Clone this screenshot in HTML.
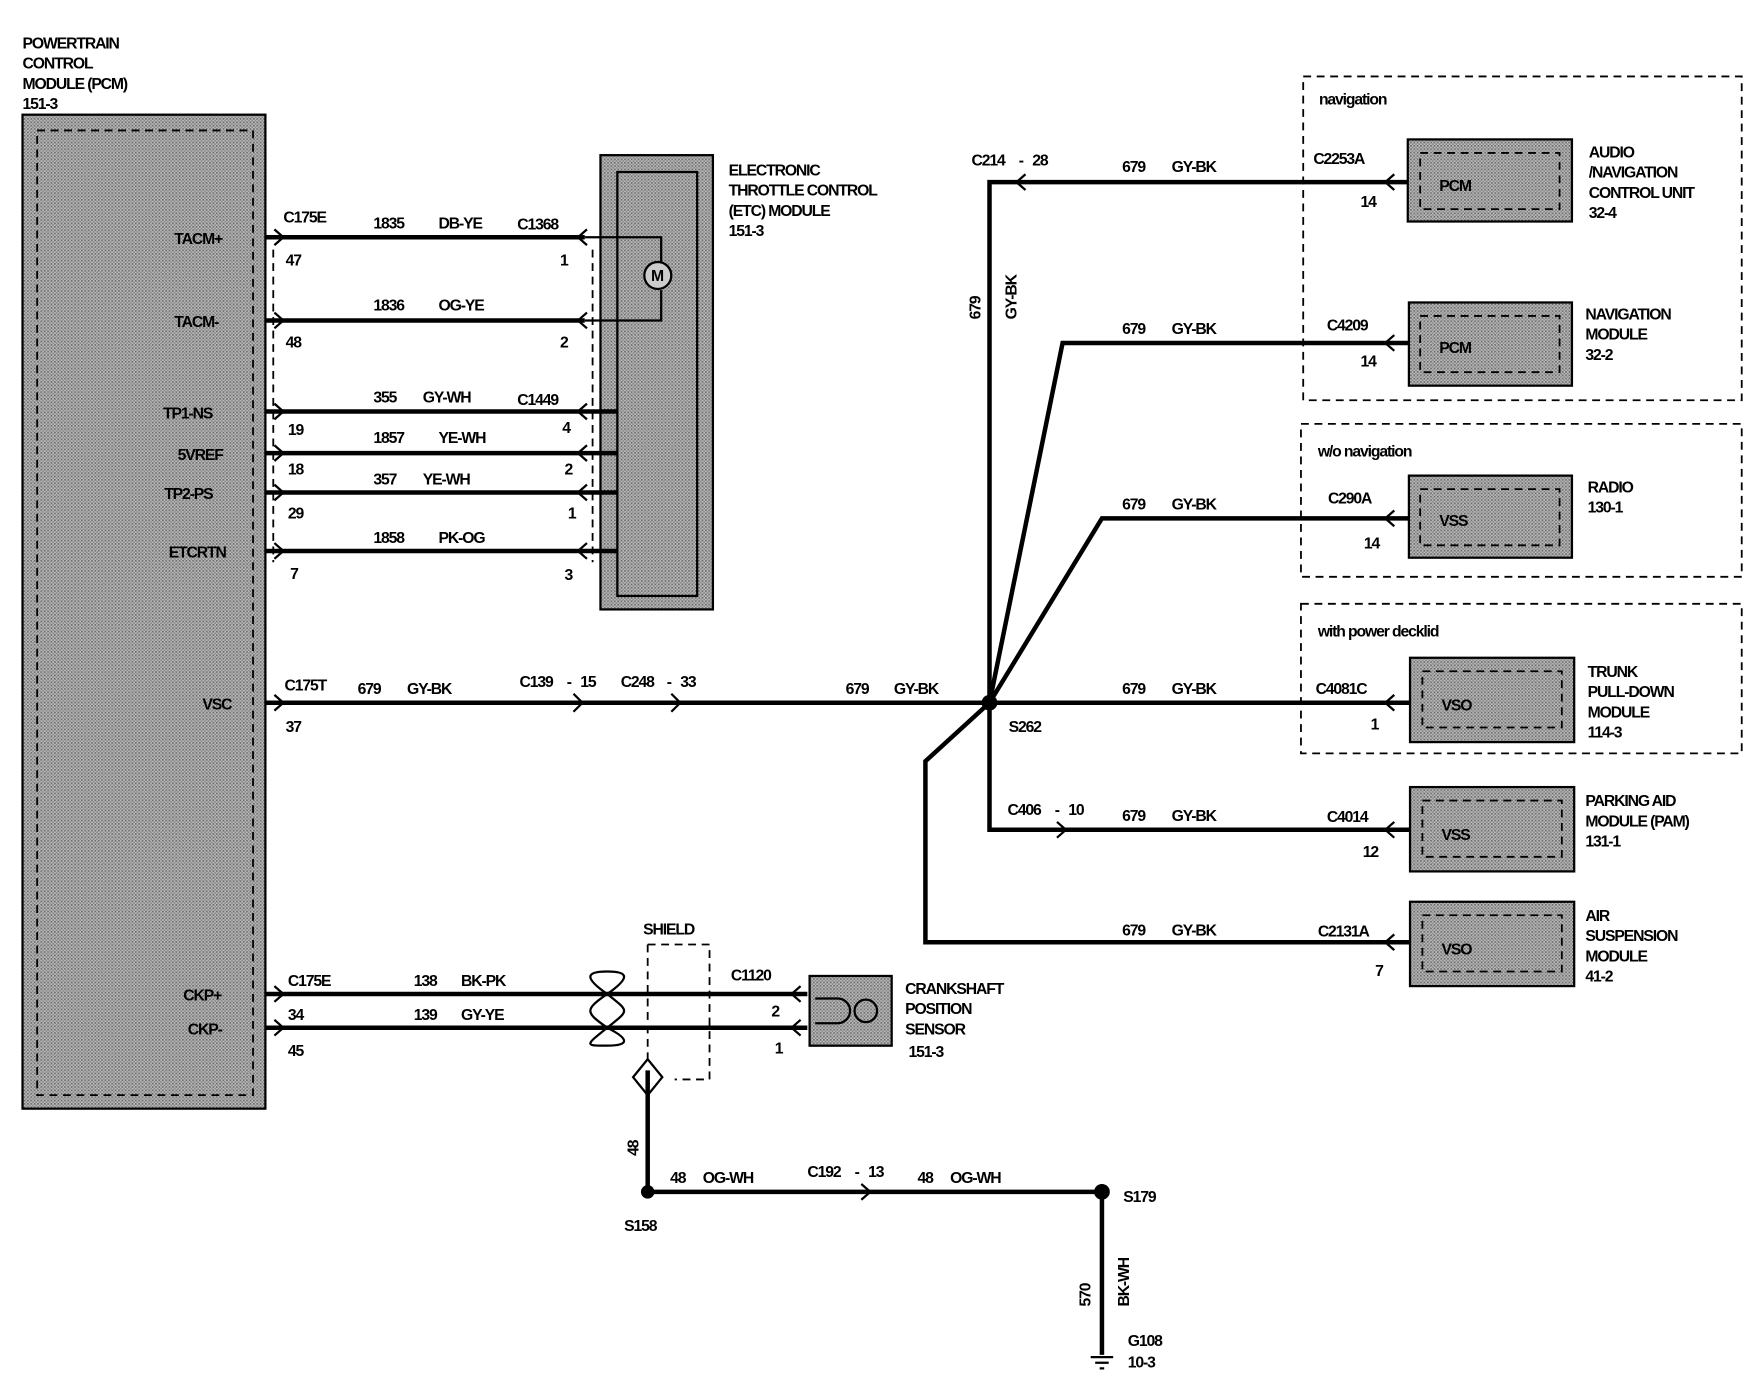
<!DOCTYPE html>
<html><head><meta charset="utf-8"><style>
html,body{margin:0;padding:0;background:#fff}
svg{display:block}
text{font-family:"Liberation Sans",Arial,sans-serif;font-size:14px;fill:#000;letter-spacing:-1px;font-weight:bold}
.w{stroke:#000;stroke-width:4;fill:none}
.t{stroke:#000;stroke-width:2;fill:none}
.d{stroke:#000;stroke-width:1.6;fill:none;stroke-dasharray:7 5}
</style></head><body>
<svg width="1762" height="1392" viewBox="0 0 1567 1238" xmlns="http://www.w3.org/2000/svg">
<defs>
<pattern id="p" width="3" height="3" patternUnits="userSpaceOnUse"><rect width="3" height="3" fill="#bdbdbd"/><rect width="1.5" height="1.5" fill="#6a6a6a"/><rect x="1.5" y="1.5" width="1.5" height="1.5" fill="#888"/></pattern>
</defs>
<!-- PCM -->
<text x="20" y="43">POWERTRAIN</text><text x="20" y="61">CONTROL</text><text x="20" y="79">MODULE (PCM)</text><text x="20" y="97">151-3</text>
<rect x="20" y="102" width="216" height="884" fill="url(#p)" stroke="#000" stroke-width="2"/>
<rect x="33" y="116" width="192" height="858" class="d"/>
<g>
<text x="155" y="217">TACM+</text><text x="155" y="291">TACM-</text><text x="145" y="372">TP1-NS</text><text x="158" y="409">5VREF</text><text x="146" y="444">TP2-PS</text><text x="150" y="496">ETCRTN</text><text x="180" y="631">VSC</text><text x="163" y="890">CKP+</text><text x="167" y="920">CKP-</text>
</g>
<!-- ETC -->
<rect x="534" y="138" width="100" height="404" fill="url(#p)" stroke="#000" stroke-width="2"/>
<rect x="549" y="153" width="71" height="377" class="t" stroke-width="3"/>
<text x="648" y="156">ELECTRONIC</text><text x="648" y="174">THROTTLE CONTROL</text><text x="648" y="192">(ETC) MODULE</text><text x="648" y="210">151-3</text>
<path class="t" d="M520 211H588V233M588 258V285H520"/>
<circle cx="585" cy="245" r="12" fill="#ccc" stroke="#000" stroke-width="2"/><text x="579" y="250" font-size="13">M</text>
<path class="d" d="M243 222V500M527 222V500"/>
<g class="w">
<path d="M236 211H520M236 285H520M236 366H549M236 403H549M236 438H549M236 490H549"/>
</g>
<g class="t">
<path d="M244 204l8 7-8 7M244 278l8 7-8 7M244 359l8 7-8 7M244 396l8 7-8 7M244 431l8 7-8 7M244 483l8 7-8 7"/>
<path d="M522 204l-8 7 8 7M522 278l-8 7 8 7M522 359l-8 7 8 7M522 396l-8 7 8 7M522 431l-8 7 8 7M522 483l-8 7 8 7"/>
</g>
<text x="252" y="198">C175E</text><text x="332" y="203">1835</text><text x="390" y="203">DB-YE</text><text x="460" y="204">C1368</text>
<text x="254" y="236">47</text><text x="498" y="236">1</text>
<text x="332" y="276">1836</text><text x="390" y="276">OG-YE</text>
<text x="254" y="309">48</text><text x="498" y="309">2</text>
<text x="332" y="358">355</text><text x="376" y="358">GY-WH</text><text x="460" y="360">C1449</text>
<text x="256" y="387">19</text><text x="500" y="385">4</text>
<text x="332" y="394">1857</text><text x="390" y="394">YE-WH</text>
<text x="256" y="422">18</text><text x="502" y="422">2</text>
<text x="332" y="431">357</text><text x="376" y="431">YE-WH</text>
<text x="256" y="461">29</text><text x="505" y="461">1</text>
<text x="332" y="483">1858</text><text x="390" y="483">PK-OG</text>
<text x="258" y="515">7</text><text x="502" y="516">3</text>
<!-- VSC -->
<path class="w" d="M236 625H880"/>
<path class="t" d="M244 618l8 7-8 7M510 617l8 8-8 8M597 617l8 8-8 8"/>
<text x="253" y="614">C175T</text><text x="318" y="617">679</text><text x="362" y="617">GY-BK</text>
<text x="462" y="611">C139</text><text x="504" y="611">-</text><text x="516" y="611">15</text>
<text x="552" y="611">C248</text><text x="593" y="611">-</text><text x="605" y="611">33</text>
<text x="752" y="617">679</text><text x="795" y="617">GY-BK</text>
<text x="254" y="651">37</text>
<!-- S262 network -->
<g class="w">
<path d="M880 625V162H1252"/>
<path d="M880 625L945 305H1253"/>
<path d="M880 625L980 461H1253"/>
<path d="M880 625H1254"/>
<path d="M880 625V738H1254"/>
<path d="M880 625L823 677V838H1254"/>
</g>
<circle cx="880" cy="625" r="7"/>
<text x="897" y="651">S262</text>
<text x="864" y="147">C214</text><text x="906" y="147">-</text><text x="918" y="147">28</text>
<text transform="translate(872 284) rotate(-90)">679</text>
<text transform="translate(904 284) rotate(-90)">GY-BK</text>
<g class="t">
<path d="M912 155l-8 7 8 7"/>
<path d="M1240 155l-8 7 8 7M1240 298l-8 7 8 7M1240 454l-8 7 8 7M1240 618l-8 7 8 7M1240 731l-8 7 8 7M1240 831l-8 7 8 7"/>
<path d="M940 731l8 7-8 7"/>
</g>
<g>
<text x="998" y="153">679</text><text x="1042" y="153">GY-BK</text>
<text x="998" y="297">679</text><text x="1042" y="297">GY-BK</text>
<text x="998" y="453">679</text><text x="1042" y="453">GY-BK</text>
<text x="998" y="617">679</text><text x="1042" y="617">GY-BK</text>
<text x="998" y="730">679</text><text x="1042" y="730">GY-BK</text>
<text x="998" y="832">679</text><text x="1042" y="832">GY-BK</text>
<text x="896" y="725">C406</text><text x="938" y="725">-</text><text x="950" y="725">10</text>
<text x="1168" y="146">C2253A</text><text x="1210" y="184">14</text>
<text x="1180" y="294">C4209</text><text x="1210" y="326">14</text>
<text x="1181" y="448">C290A</text><text x="1213" y="488">14</text>
<text x="1170" y="617">C4081C</text><text x="1219" y="649">1</text>
<text x="1180" y="731">C4014</text><text x="1212" y="762">12</text>
<text x="1172" y="833">C2131A</text><text x="1223" y="868">7</text>
</g>
<!-- groups -->
<rect x="1159" y="68" width="390" height="288" class="d"/>
<rect x="1157" y="377" width="392" height="136" class="d"/>
<rect x="1157" y="537" width="392" height="133" class="d"/>
<text x="1173" y="93" font-weight="normal">navigation</text><text x="1172" y="406" font-weight="normal">w/o navigation</text><text x="1172" y="566" font-weight="normal">with power decklid</text>
<!-- modules -->
<g>
<rect x="1252" y="124" width="146" height="73" fill="url(#p)" stroke="#000" stroke-width="2"/>
<rect x="1253" y="269" width="145" height="74" fill="url(#p)" stroke="#000" stroke-width="2"/>
<rect x="1253" y="423" width="145" height="73" fill="url(#p)" stroke="#000" stroke-width="2"/>
<rect x="1254" y="585" width="146" height="75" fill="url(#p)" stroke="#000" stroke-width="2"/>
<rect x="1254" y="700" width="146" height="75" fill="url(#p)" stroke="#000" stroke-width="2"/>
<rect x="1254" y="802" width="146" height="75" fill="url(#p)" stroke="#000" stroke-width="2"/>
</g>
<g class="d" stroke-dasharray="6 4">
<rect x="1263" y="136" width="124" height="50"/><rect x="1263" y="281" width="124" height="50"/><rect x="1263" y="435" width="124" height="50"/><rect x="1265" y="597" width="124" height="50"/><rect x="1265" y="712" width="124" height="50"/><rect x="1265" y="814" width="124" height="50"/>
</g>
<text x="1280" y="170">PCM</text><text x="1280" y="314">PCM</text><text x="1280" y="468">VSS</text><text x="1282" y="632">VSO</text><text x="1282" y="747">VSS</text><text x="1282" y="849">VSO</text>
<text x="1413" y="140">AUDIO</text><text x="1413" y="158">/NAVIGATION</text><text x="1413" y="176">CONTROL UNIT</text><text x="1413" y="194">32-4</text>
<text x="1410" y="284">NAVIGATION</text><text x="1410" y="302">MODULE</text><text x="1410" y="320">32-2</text>
<text x="1412" y="438">RADIO</text><text x="1412" y="456">130-1</text>
<text x="1412" y="602">TRUNK</text><text x="1412" y="620">PULL-DOWN</text><text x="1412" y="638">MODULE</text><text x="1412" y="656">114-3</text>
<text x="1410" y="717">PARKING AID</text><text x="1410" y="735">MODULE (PAM)</text><text x="1410" y="753">131-1</text>
<text x="1410" y="819">AIR</text><text x="1410" y="837">SUSPENSION</text><text x="1410" y="855">MODULE</text><text x="1410" y="873">41-2</text>
<!-- crankshaft -->
<path class="w" d="M236 884H718M236 914H718"/>
<path class="t" d="M244 877l8 7-8 7M244 907l8 7-8 7M712 877l-8 7 8 7M712 907l-8 7 8 7"/>
<path class="t" d="M540 884C560 870 560 864 540 864S520 870 540 884C560 900 560 898 540 914C520 930 520 930 540 930S560 924 540 914C520 900 520 898 540 884"/>
<path class="d" d="M576 840H631V960H600M576 840V948"/>
<text x="572" y="831">SHIELD</text>
<rect x="720" y="868" width="73" height="62" fill="url(#p)" stroke="#000" stroke-width="2"/>
<circle cx="770" cy="899" r="10" fill="none" stroke="#000" stroke-width="2"/><path class="t" d="M725 888H745A11 11 0 0 1 745 910H725"/>
<text x="805" y="884">CRANKSHAFT</text><text x="805" y="902">POSITION</text><text x="805" y="920">SENSOR</text><text x="808" y="940">151-3</text>
<text x="256" y="877">C175E</text><text x="368" y="877">138</text><text x="410" y="877">BK-PK</text><text x="650" y="872">C1120</text>
<text x="256" y="907">34</text><text x="368" y="907">139</text><text x="410" y="907">GY-YE</text><text x="686" y="904">2</text>
<text x="256" y="939">45</text><text x="689" y="937">1</text>
<path class="t" d="M576 942L589 958L576 974L563 958Z"/>
<path class="w" d="M576 952V1060H980V1205"/>
<path class="t" d="M766 1053l8 7-8 7"/>
<circle cx="576" cy="1060" r="6"/><circle cx="980" cy="1060" r="7"/>
<text transform="translate(568 1028) rotate(-90)">48</text>
<text x="596" y="1052">48</text><text x="625" y="1052">OG-WH</text>
<text x="718" y="1047">C192</text><text x="760" y="1047">-</text><text x="772" y="1047">13</text>
<text x="816" y="1052">48</text><text x="845" y="1052">OG-WH</text>
<text x="555" y="1095">S158</text><text x="999" y="1069">S179</text>
<text transform="translate(970 1162) rotate(-90)">570</text>
<text transform="translate(1004 1162) rotate(-90)">BK-WH</text>
<path class="t" d="M970 1207H990M974 1212H986M978 1217H982"/>
<text x="1003" y="1197">G108</text><text x="1003" y="1216">10-3</text>
</svg>
</body></html>
